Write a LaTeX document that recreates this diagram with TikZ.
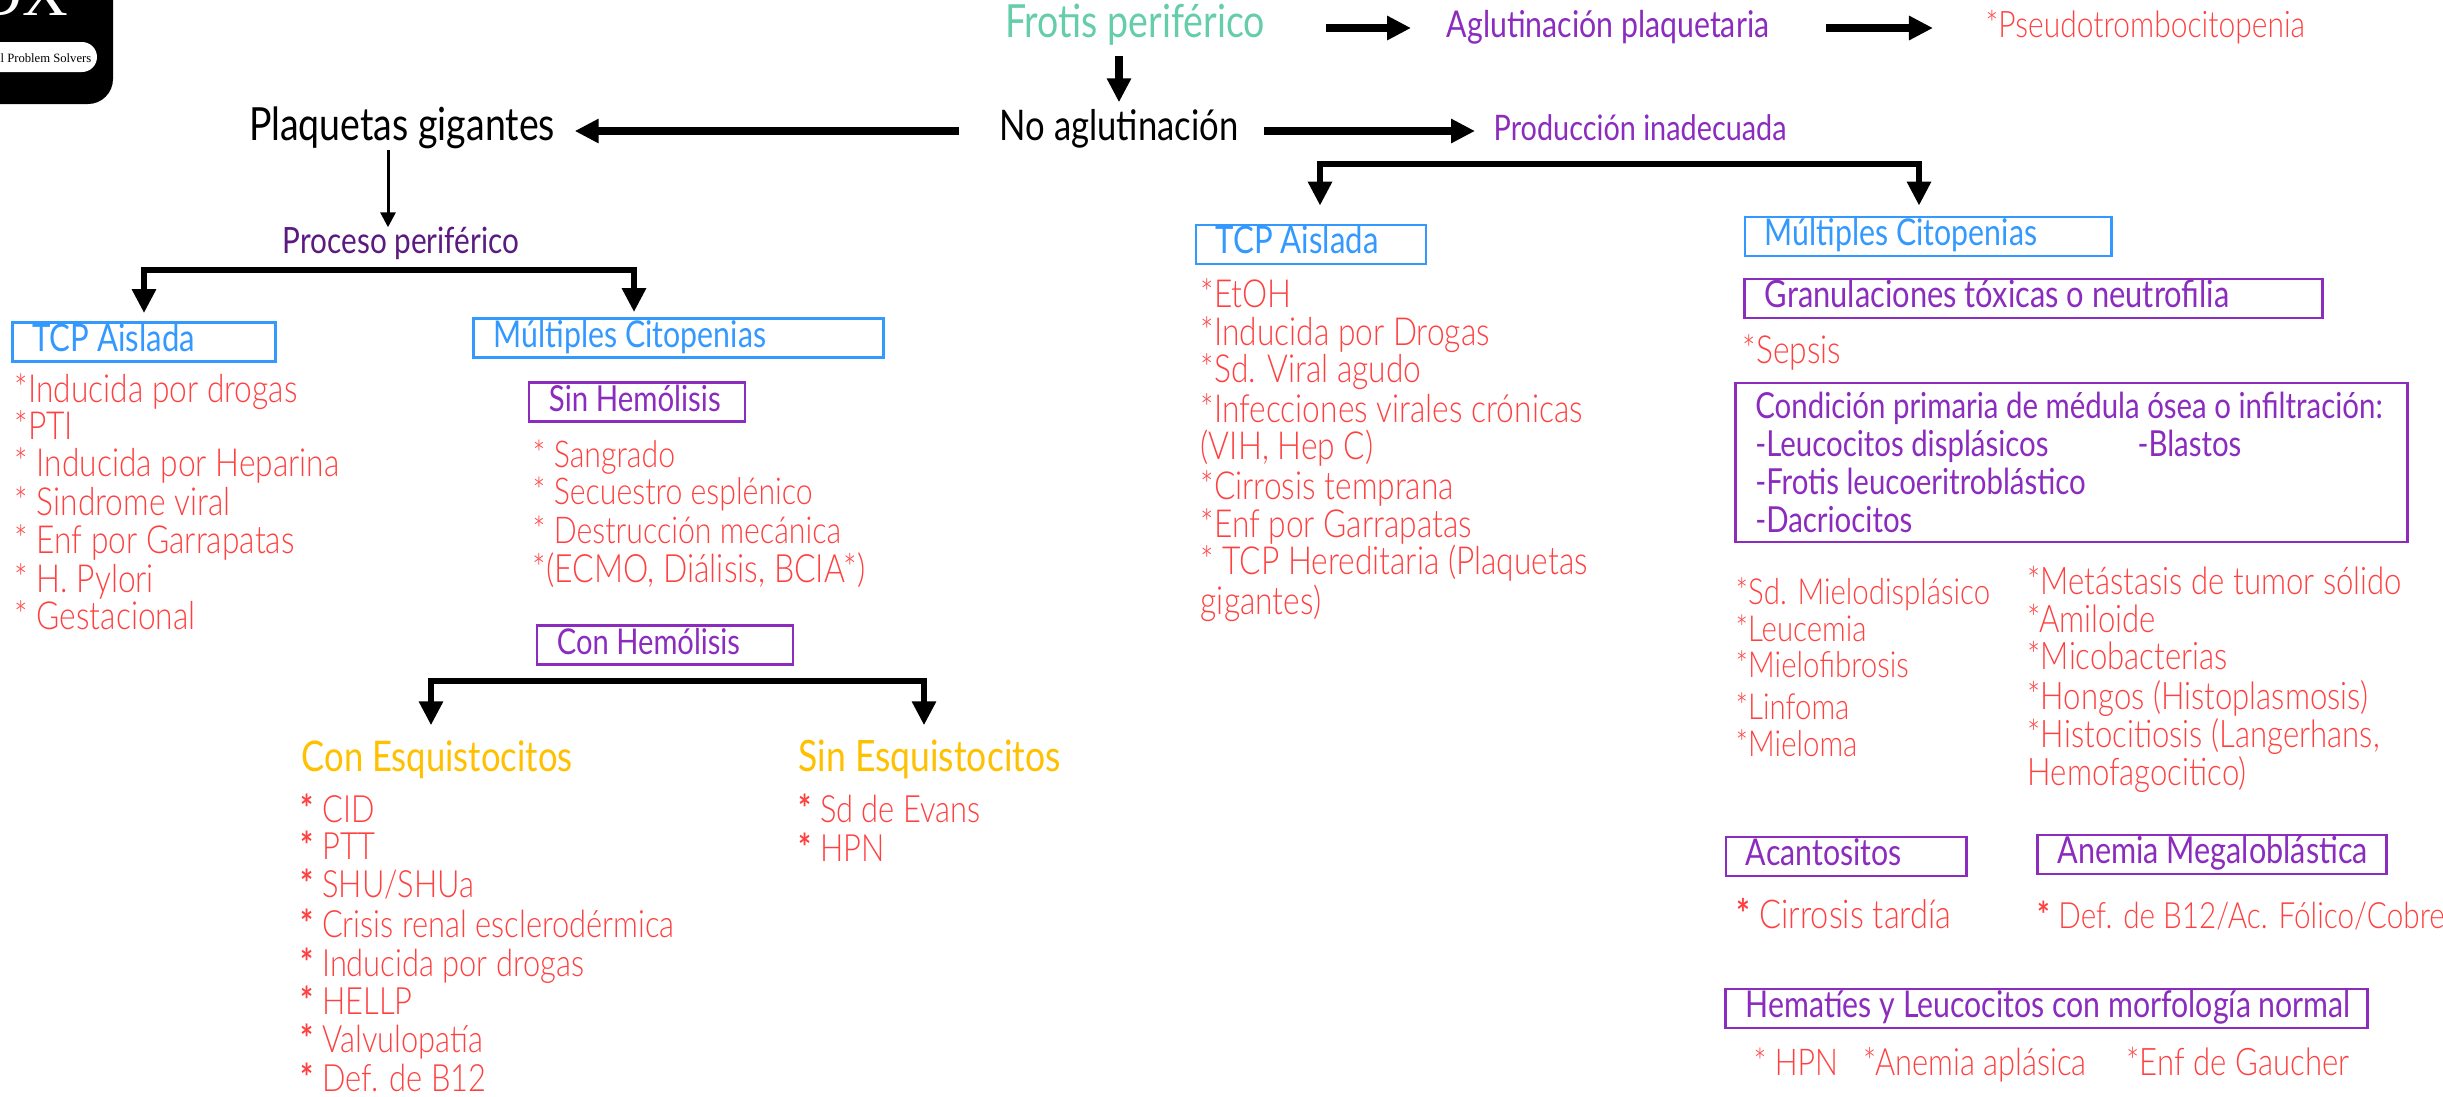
\documentclass[tikz,border=0pt]{standalone}
\usepackage{fontspec}
\setmainfont{Lato Light}[FakeStretch=0.82]
\newfontfamily\midfont{Lato}[FakeStretch=0.82]
\newfontfamily\logofont{Liberation Serif}
\usepackage{tikz}
\usetikzlibrary{arrows.meta}
\definecolor{cpred}{HTML}{FF4040}
\definecolor{cppurple}{HTML}{8B2CBF}
\definecolor{cpdark}{HTML}{5B1A80}
\definecolor{cpblue}{HTML}{3399FF}
\definecolor{cpteal}{HTML}{66CDAA}
\definecolor{cpamber}{HTML}{FFC000}
\newcommand{\bstar}{{\midfont\bfseries *}}
\newcommand{\boxtxt}[1]{\mbox{\spaceskip=0pt #1}}
\begin{document}
\begin{tikzpicture}[x=0.01cm,y=-0.01cm]
\tikzset{lbl/.style={inner sep=0pt, text height=0.24cm, text depth=0.06cm}}
\tikzset{sz/.style={font=\fontsize{#1}{#1}\selectfont}}
\tikzset{msz/.style={font=\midfont\fontsize{#1}{#1}\selectfont}}
\tikzset{title/.style={lbl, msz=13}}
\tikzset{head/.style={lbl, text=cppurple, msz=10.5}}
\tikzset{item/.style={lbl, anchor=west, text=cpred, sz=11}}
\tikzset{esq/.style={lbl, text=cpamber, msz=12}}
\tikzset{bluebox/.style={lbl, draw=cpblue, line width=0.8pt, text=cpblue, minimum height=0.39cm, inner xsep=0.2cm, align=left, msz=10.5}}
\tikzset{purplebox/.style={bluebox, draw=cppurple, text=cppurple}}
\tikzset{bigarrow/.style={-{Triangle[length=0.24cm,width=0.23cm]}, line width=0.08cm}}
\tikzset{thinarrow/.style={-{Triangle[length=0.15cm,width=0.15cm]}, line width=0.03cm}}
\tikzset{bararrow/.style={-{Triangle[length=0.24cm,width=0.23cm]}, line width=0.06cm}}
\tikzset{barline/.style={line width=0.065cm, line cap=rect}}
\useasboundingbox (0,0) rectangle (2443,1096);
% logo
\begin{scope}
\clip (0,0) rectangle (113,104);
\fill[black, rounded corners=0.25cm] (-40,-40) rectangle (113,104);
\fill[white, rounded corners=0.15cm] (-40,42) rectangle (97,72);
\node[text=white, anchor=base east, inner sep=0pt, font=\logofont\fontsize{18}{18}\selectfont] (logoa) at (69,15) {DX};
\node[anchor=east, inner sep=0pt, font=\logofont\fontsize{3.6}{4}\selectfont] (logob) at (92,58) {al Problem Solvers};
\end{scope}
% top rows
\node[title, text=cpteal] (frotis) at (1135,28) {Frotis periférico};
\node[head] (aglut) at (1608,28) {Aglutinación plaquetaria};
\node[item, sz=10.4] (pseudo) at (1985,28) {*Pseudotrombocitopenia};
\node[title, msz=12] (noaglut) at (1119,131) {No aglutinación};
\node[head, msz=10, anchor=west] (produccion) at (1493,131) {Producción inadecuada};
\node[title] (gigantes) at (402,131) {Plaquetas gigantes};
\node[head, msz=10.3, text=cpdark] (periferico) at (401,244) {Proceso periférico};
\coordinate (gdown) at (388,190);
\draw[bigarrow, shorten <=0.6cm, shorten >=0.35cm] (frotis.east) -- (aglut.west);
\draw[bigarrow, shorten <=0.56cm, shorten >=0.52cm] (aglut.east) -- (pseudo.west);
\draw[bigarrow, shorten <=0.12cm, shorten >=0.13cm] (frotis.south -| noaglut.north) -- (noaglut.north);
\draw[bigarrow, shorten <=0.25cm, shorten >=0.18cm] (noaglut.east) -- (produccion.west);
\draw[bigarrow, shorten <=0.4cm, shorten >=0.19cm] (noaglut.west) -- (gigantes.east);
\draw[thinarrow, shorten <=0.03cm, shorten >=0.01cm] (gdown |- gigantes.south) -- (gdown |- periferico.north);
% peripheral branch
\node[bluebox, msz=10.8, text width=2.23cm] (tcpa) at (144,342) {\boxtxt{TCP Aislada}};
\node[bluebox, text width=3.69cm] (multa) at (678.5,338) {\boxtxt{Múltiples Citopenias}};
\coordinate (bra) at (144,270);
\coordinate (brb) at (634,270);
\draw[barline] (bra) -- (brb);
\draw[bararrow, shorten >=0.08cm] (bra) -- (tcpa.north);
\draw[bararrow, shorten >=0.05cm] (brb) -- (brb |- multa.north);
\foreach \i/\y/\t in {1/393/{*Inducida por drogas},2/430/{*PTI},3/467/{* Inducida por Heparina},4/506/{* Sindrome viral},5/544/{* Enf por Garrapatas},6/583/{* H. Pylori},7/620/{* Gestacional}}
  \node[item] (lefta\i) at (14,\y) {\t};
\node[purplebox, msz=10.2, text width=1.76cm] (sinhem) at (637,402) {\boxtxt{Sin Hemólisis}};
\foreach \i/\y/\t in {1/458/{* Sangrado},2/495/{* Secuestro esplénico},3/534/{* Destrucción mecánica}}
  \node[item, sz=10.5] (sinh\i) at (532,\y) {\t};
\node[item, sz=11.1] (sinh4) at (532,573) {*(ECMO, Diálisis, BCIA*)};
\node[purplebox, msz=10.1, text width=2.16cm] (conhem) at (665,645) {\boxtxt{Con Hemólisis}};
\coordinate (brc) at (431,681);
\coordinate (brd) at (924,681);
\draw[barline] (brc) -- (brd);
\node[esq, anchor=west] (conesq) at (301,762) {Con Esquistocitos};
\node[esq, msz=12.3, anchor=west] (sinesq) at (798,762) {Sin Esquistocitos};
\draw[bararrow, shorten >=0.21cm] (brc) -- (brc |- conesq.north);
\draw[bararrow, shorten >=0.21cm] (brd) -- (brd |- sinesq.north);
\foreach \i/\y/\t in {1/813/{CID},2/850/{PTT},3/888/{SHU/SHUa},4/928/{Crisis renal esclerodérmica},5/967/{Inducida por drogas},6/1005/{HELLP},7/1043/{Valvulopatía},8/1082/{Def. de B12}}
  \node[item, sz=10.7] (cone\i) at (300,\y) {\bstar\ \t};
\node[item, sz=10.7] (sine1) at (798,813) {\bstar\ Sd de Evans};
\node[item, sz=10.7] (sine2) at (798,852) {\bstar\ HPN};
% production branch
\node[bluebox, msz=10.8, text width=1.9cm] (tcpb) at (1311,244.5) {\boxtxt{TCP Aislada}};
\node[bluebox, text width=3.26cm] (multb) at (1928,236.5) {\boxtxt{Múltiples Citopenias}};
\coordinate (bre) at (1320,164);
\coordinate (brf) at (1919,164);
\draw[barline] (bre) -- (brf);
\draw[bararrow, shorten >=0.18cm] (bre) -- (bre |- tcpb.north);
\draw[bararrow, shorten >=0.1cm] (brf) -- (brf |- multb.north);
\foreach \i/\y/\t in {1/298/{*EtOH},2/336/{*Inducida por Drogas},3/373/{*Sd. Viral agudo},4/413/{*Infecciones virales crónicas},5/450/{(VIH, Hep C)},6/490/{*Cirrosis temprana},7/528/{*Enf por Garrapatas},8/565/{* TCP Hereditaria (Plaquetas},9/605/{gigantes)}}
  \node[item] (leftb\i) at (1200,\y) {\t};
\node[purplebox, msz=10.7, text width=5.37cm] (granul) at (2033.5,298.5) {\boxtxt{Granulaciones tóxicas o neutrofilia}};
\node[item] (sepsis) at (1742,354) {*Sepsis};
\node[purplebox, text width=6.32cm, text height=, text depth=, minimum height=1.59cm, inner ysep=0pt, font=\midfont\fontsize{10.2}{10.8}\selectfont] (medula) at (2071.5,462.5) {\boxtxt{Condición primaria de médula ósea o infiltración:}\\\boxtxt{\makebox[3.82cm][l]{-Leucocitos displásicos}-Blastos}\\\boxtxt{-Frotis leucoeritroblástico}\\\boxtxt{-Dacriocitos}};
\foreach \i/\y/\t in {1/595/{*Sd. Mielodisplásico},2/632/{*Leucemia},3/668/{*Mielofibrosis},4/710/{*Linfoma},5/747/{*Mieloma}}
  \node[item, sz=10.2] (midc\i) at (1735,\y) {\t};
\foreach \i/\y/\t in {1/585/{*Metástasis de tumor sólido},2/623/{*Amiloide},3/660/{*Micobacterias},4/700/{*Hongos (Histoplasmosis)},5/738/{*Histocitiosis (Langerhans,},6/776/{Hemofagocitico)}}
  \node[item, sz=10.8] (midd\i) at (2027,\y) {\t};
\node[purplebox, text width=2.0cm] (acanto) at (1846,856.5) {\boxtxt{Acantositos}};
\node[purplebox, msz=10.6, text width=3.09cm] (anemia) at (2212,854.5) {\boxtxt{Anemia Megaloblástica}};
\node[item, sz=11.3] (cirro) at (1736,919) {\bstar\ Cirrosis tardía};
\node[item, sz=10.3] (defb) at (2037,919) {\bstar\ Def. de B12/Ac. Fólico/Cobre};
\node[purplebox, msz=10.5, text width=6.01cm] (hematies) at (2046.5,1008.5) {\boxtxt{Hematíes y Leucocitos con morfología normal}};
\node[item, sz=10.5] (hpn) at (1753,1066) {* HPN};
\node[item, sz=10.7] (aplas) at (1863,1066) {*Anemia aplásica};
\node[item, sz=10.8] (gaucher) at (2126,1066) {*Enf de Gaucher};
\end{tikzpicture}
\end{document}
